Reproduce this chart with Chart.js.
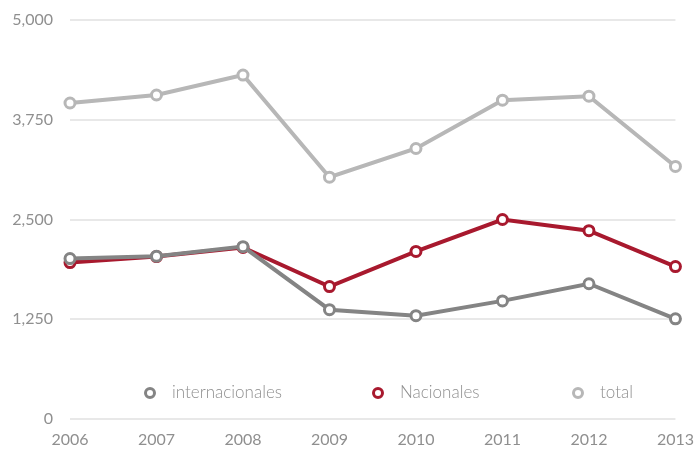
<!DOCTYPE html>
<html>
<head>
<meta charset="utf-8">
<script src="https://cdn.jsdelivr.net/npm/chart.js@4.4.1/dist/chart.umd.min.js"></script>
<style>
  html, body { margin: 0; padding: 0; background: #fff; overflow: hidden; }
  #wrap { width: 697px; height: 449px; position: relative; }
</style>
</head>
<body>
<div id="wrap"><canvas id="lineChart" width="697" height="449"></canvas></div>
<script>
const years = ["2006", "2007", "2008", "2009", "2010", "2011", "2012", "2013"];
const internacionales = [2010, 2040, 2160, 1370, 1295, 1480, 1695, 1255];
const nacionales = [1960, 2035, 2150, 1660, 2100, 2500, 2360, 1910];
const total = [3960, 4060, 4310, 3030, 3390, 3995, 4045, 3165];
const yTicks = [0, 1250, 2500, 3750, 5000];

const colors = {
  internacionales: "#848484",
  nacionales: "#a8192e",
  total: "#b7b7b7",
};

// legend drawn inside the plot, just above the zero line
const innerLegend = {
  id: "innerLegend",
  afterDatasetsDraw(chart) {
    const { ctx, chartArea } = chart;
    const y = chartArea.bottom - 26;
    const items = [
      { label: "internacionales", color: colors.internacionales, x: chartArea.left + 80 },
      { label: "Nacionales", color: colors.nacionales, x: chartArea.left + 308 },
      { label: "total", color: colors.total, x: chartArea.left + 508 },
    ];
    ctx.save();
    ctx.font = "300 17px Lato, 'Open Sans', sans-serif";
    ctx.textBaseline = "middle";
    items.forEach((it) => {
      ctx.beginPath();
      ctx.arc(it.x, y, 4.5, 0, Math.PI * 2);
      ctx.fillStyle = "#fff";
      ctx.fill();
      ctx.lineWidth = 3;
      ctx.strokeStyle = it.color;
      ctx.stroke();
      ctx.fillStyle = "#8f8f8f";
      ctx.fillText(it.label, it.x + 22, y);
    });
    ctx.restore();
  },
};

const makeSet = (label, data, color, order) => ({
  label,
  data,
  order,
  borderColor: color,
  backgroundColor: "#fff",
  borderWidth: 4,
  pointRadius: 5,
  pointBorderWidth: 3,
  pointBackgroundColor: "#fff",
  pointBorderColor: color,
  tension: 0,
});

new Chart(document.getElementById("lineChart"), {
  type: "line",
  data: {
    labels: years,
    datasets: [
      makeSet("internacionales", internacionales, colors.internacionales, 1),
      makeSet("Nacionales", nacionales, colors.nacionales, 2),
      makeSet("total", total, colors.total, 3),
    ],
  },
  options: {
    responsive: false,
    animation: false,
    devicePixelRatio: 1,
    layout: { padding: { top: 20, right: 20, left: 0, bottom: 0 } },
    plugins: {
      legend: { display: false },
      tooltip: { enabled: false },
    },
    scales: {
      x: {
        offset: false,
        grid: { display: false },
        border: { display: false },
        ticks: {
          color: "#8f8f8f",
          font: { family: "Lato, 'Open Sans', sans-serif", size: 16 },
          padding: 3,
          maxRotation: 0,
          autoSkip: false,
        },
        afterFit(scale) {
          scale.height = 30;
        },
      },
      y: {
        min: 0,
        max: 5000,
        afterBuildTicks(scale) {
          scale.ticks = yTicks.map((v) => ({ value: v }));
        },
        grid: { color: "#e8e8e8", lineWidth: 2, drawTicks: false },
        border: { display: false },
        ticks: {
          color: "#8f8f8f",
          font: { family: "Lato, 'Open Sans', sans-serif", size: 16 },
          padding: 17,
          callback: (v) => v.toLocaleString("en-US"),
        },
        afterFit(scale) {
          scale.width = 70;
          scale.paddingTop = 0;
          scale.paddingBottom = 0;
        },
      },
    },
  },
  plugins: [innerLegend],
});
</script>
</body>
</html>
